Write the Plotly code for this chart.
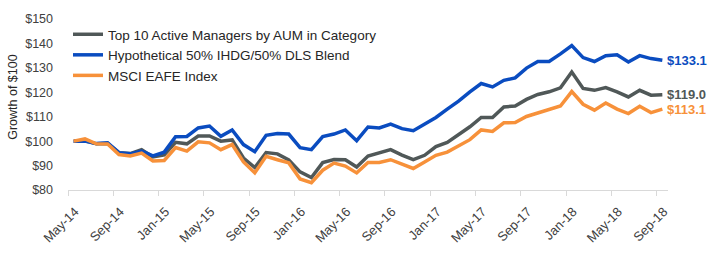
import plotly.graph_objects as go

# ---- data (monthly, May-14 .. Sep-18) ----
month_index = list(range(53))
tick_labels = ["May-14", "Sep-14", "Jan-15", "May-15", "Sep-15", "Jan-16", "May-16",
               "Sep-16", "Jan-17", "May-17", "Sep-17", "Jan-18", "May-18", "Sep-18"]

top10_active = [100.0, 100.1, 98.9, 99.0, 95.3, 94.9, 96.5, 93.5, 94.4, 99.5,
                98.9, 102.1, 102.1, 100.0, 100.5, 93.1, 89.2, 95.3, 94.8, 92.3,
                87.4, 85.1, 91.2, 92.5, 92.4, 89.4, 93.9, 95.3, 96.5, 94.3,
                92.4, 94.2, 97.8, 99.5, 102.7, 105.9, 109.7, 109.7, 114.0, 114.4,
                117.1, 119.1, 120.2, 121.8, 128.3, 121.6, 120.8, 121.9, 120.2, 118.1,
                120.8, 118.8, 119.0]

blend = [100.0, 100.0, 99.0, 99.3, 95.3, 94.8, 95.9, 94.0, 95.5, 101.8,
         101.9, 105.4, 106.2, 102.0, 104.6, 98.6, 95.7, 102.4, 103.1, 102.9,
         97.3, 96.5, 101.9, 102.9, 104.6, 100.2, 105.8, 105.4, 107.0, 105.1,
         104.3, 107.0, 109.7, 113.1, 116.4, 120.2, 123.6, 122.2, 124.9, 125.9,
         129.9, 132.6, 132.6, 135.7, 139.1, 134.2, 132.6, 135.0, 135.4, 132.4,
         135.0, 133.8, 133.1]

eafe = [100.0, 100.9, 98.9, 98.8, 94.5, 93.9, 95.1, 91.9, 92.1, 97.4,
        95.9, 99.7, 99.3, 96.5, 98.6, 91.5, 87.0, 93.8, 92.4, 91.1,
        84.5, 83.0, 88.1, 91.0, 89.8, 87.0, 91.3, 91.3, 92.4, 90.6,
        88.8, 91.5, 94.2, 95.5, 98.2, 100.6, 104.6, 104.0, 107.5, 107.6,
        110.1, 111.6, 113.1, 114.4, 120.3, 115.1, 112.7, 115.6, 113.1, 111.3,
        114.3, 111.7, 113.1]

series_names = ["Top 10 Active Managers by AUM in Category",
                "Hypothetical 50% IHDG/50% DLS Blend",
                "MSCI EAFE Index"]
series_values = [top10_active, blend, eafe]
series_colors = ["#505858", "#0A4CC0", "#F7913A"]

FONT = "Liberation Sans, Arial, sans-serif"

fig = go.Figure()
for name, vals, col in zip(series_names, series_values, series_colors):
    fig.add_trace(go.Scatter(
        x=month_index, y=vals, mode="lines", name=name,
        line=dict(color=col, width=3.5), hoverinfo="skip"))
    fig.add_annotation(
        x=month_index[-1], y=vals[-1], xref="x", yref="y",
        text=f"${vals[-1]:.1f}", showarrow=False, xanchor="left", yanchor="middle",
        xshift=3, font=dict(family=FONT, size=13, color=col, weight="bold"))

tick_positions = [month_index[i] - 0.5 for i in range(0, len(month_index), 4)]

fig.update_layout(
    width=711, height=264,
    margin=dict(l=68, r=43, t=17, b=74, pad=0),
    paper_bgcolor="white", plot_bgcolor="white",
    font=dict(family=FONT, size=12, color="#404040"),
    showlegend=True,
    legend=dict(x=0.0, y=1.0, xanchor="left", yanchor="top",
                bgcolor="rgba(0,0,0,0)", font=dict(size=13.5, color="#262626"),
                tracegroupgap=0, itemwidth=30),
    xaxis=dict(range=[-0.5, 52.5], tickmode="array", tickvals=tick_positions,
               ticktext=tick_labels, tickangle=-45, showgrid=False, zeroline=False,
               showline=True, linecolor="#D9D9D9", linewidth=1,
               ticks="outside", ticklen=5, tickcolor="#D9D9D9",
               tickfont=dict(size=13, color="#404040"), ticklabelshift=7,
               ticklabelstandoff=3),
    yaxis=dict(range=[80, 150], dtick=10, tickprefix="$", showgrid=False,
               zeroline=False, showline=False, ticks="",
               tickfont=dict(size=12.5, color="#404040"), ticklabelstandoff=14),
)

fig.add_annotation(
    text="Growth of $100", xref="paper", yref="paper",
    x=(12.7 - 68) / 600, y=(190 - 96) / 173, textangle=-90,
    showarrow=False, xanchor="center", yanchor="middle",
    font=dict(family=FONT, size=12.5, color="#262626"))

fig.write_html("out.html")
